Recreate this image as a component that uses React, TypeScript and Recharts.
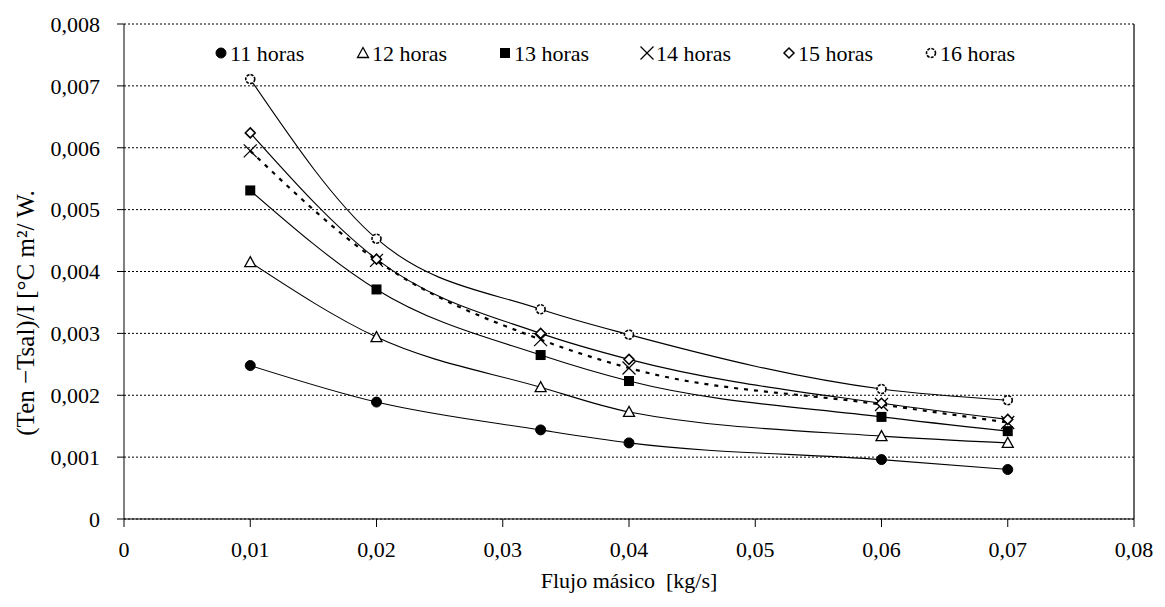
import React from 'react';
import { LineChart, Line, XAxis, YAxis, CartesianGrid, ReferenceLine, Legend } from 'recharts';

const flujo = [0.01, 0.02, 0.033, 0.04, 0.06, 0.07];
const h11 = [0.00248, 0.00189, 0.00144, 0.00123, 0.00096, 0.0008];
const h12 = [0.00415, 0.00294, 0.00213, 0.00173, 0.00134, 0.00123];
const h13 = [0.00531, 0.00371, 0.00265, 0.00223, 0.00165, 0.00142];
const h14 = [0.00595, 0.00418, 0.0029, 0.00244, 0.00185, 0.00156];
const h15 = [0.00624, 0.0042, 0.003, 0.00258, 0.00187, 0.00161];
const h16 = [0.00711, 0.00453, 0.00339, 0.00298, 0.0021, 0.00192];

const seriesKeys = ['h11', 'h12', 'h13', 'h14', 'h15', 'h16'];
const seriesNames = ['11 horas', '12 horas', '13 horas', '14 horas', '15 horas', '16 horas'];
const xTicks = [0, 0.01, 0.02, 0.03, 0.04, 0.05, 0.06, 0.07, 0.08];
const yTicks = [0, 0.001, 0.002, 0.003, 0.004, 0.005, 0.006, 0.007, 0.008];

const data = flujo.map((x, i) => ({
  x,
  h11: h11[i],
  h12: h12[i],
  h13: h13[i],
  h14: h14[i],
  h15: h15[i],
  h16: h16[i],
}));

const FONT = '"Liberation Serif", "Times New Roman", serif';

function Marker({ kind, cx, cy }: { kind: string; cx: number; cy: number }) {
  switch (kind) {
    case 'h11':
      return <circle cx={cx} cy={cy} r={5} fill="#000" stroke="#000" />;
    case 'h12':
      return (
        <polygon
          points={`${cx},${cy - 5.5} ${cx - 5.5},${cy + 4.5} ${cx + 5.5},${cy + 4.5}`}
          fill="#fff"
          stroke="#000"
          strokeWidth={1.3}
        />
      );
    case 'h13':
      return <rect x={cx - 5} y={cy - 5} width={10} height={10} fill="#000" />;
    case 'h14':
      return (
        <g stroke="#000" strokeWidth={1.2}>
          <line x1={cx - 6.5} y1={cy - 6.5} x2={cx + 6.5} y2={cy + 6.5} />
          <line x1={cx - 6.5} y1={cy + 6.5} x2={cx + 6.5} y2={cy - 6.5} />
        </g>
      );
    case 'h15':
      return (
        <polygon
          points={`${cx},${cy - 5} ${cx + 5},${cy} ${cx},${cy + 5} ${cx - 5},${cy}`}
          fill="#fff"
          stroke="#000"
          strokeWidth={1.5}
        />
      );
    default:
      return <circle cx={cx} cy={cy} r={4.5} fill="#fff" stroke="#000" strokeWidth={1.6} strokeDasharray="3 1.2" />;
  }
}

function LegendContent() {
  return (
    <svg width={860} height={30} style={{ display: 'block', overflow: 'visible' }}>
      {seriesKeys.map((k, i) => {
        const x0 = i * 142;
        return (
          <g key={k}>
            <Marker kind={k} cx={x0 + 7} cy={15} />
            <text x={x0 + 16} y={15} dy="0.35em" fontFamily={FONT} fontSize={22} fill="#000">
              {seriesNames[i]}
            </text>
          </g>
        );
      })}
    </svg>
  );
}

const fmtX = (v: number) => (v === 0 ? '0' : v.toFixed(2).replace('.', ','));
const fmtY = (v: number) => (v === 0 ? '0' : v.toFixed(3).replace('.', ','));

export default function App() {
  return (
    <LineChart
      width={1157}
      height={599}
      data={data}
      margin={{ top: 16, right: 31, bottom: 28, left: 0 }}
      style={{ fontFamily: FONT }}
    >
      <CartesianGrid vertical={false} stroke="#000" strokeDasharray="2 2" strokeWidth={1} />
      <XAxis
        type="number"
        dataKey="x"
        domain={[0, 0.08]}
        ticks={xTicks}
        tickFormatter={fmtX}
        height={60}
        tickSize={8}
        tickMargin={14}
        stroke="#000"
        tick={{ fill: '#000', fontSize: 22, fontFamily: FONT }}
        label={{
          content: (p: any) => {
            const vb = p.viewBox || { x: 116, width: 1010, y: 511 };
            return (
              <text
                x={vb.x + vb.width / 2}
                y={580}
                textAnchor="middle"
                fontFamily={FONT}
                fontSize={22}
                fill="#000"
                style={{ whiteSpace: 'pre' }}
              >
                {'Flujo másico  [kg/s]'}
              </text>
            );
          },
        }}
      />
      <YAxis
        type="number"
        domain={[0, 0.008]}
        ticks={yTicks}
        tickFormatter={fmtY}
        width={116}
        tickSize={7}
        tickMargin={17}
        stroke="#000"
        tick={{ fill: '#000', fontSize: 22, fontFamily: FONT }}
        label={{
          content: () => (
            <text
              x={17}
              y={305}
              transform="rotate(-90 17 305)"
              textAnchor="middle"
              dominantBaseline="central"
              fontFamily={FONT}
              fontSize={25}
              fill="#000"
            >
              {'(Ten −Tsal)/I [°C m²/ W.'}
            </text>
          ),
        }}
      />
      <ReferenceLine x={0.08} stroke="#000" strokeWidth={1.2} ifOverflow="visible" />
      <Legend
        layout="vertical"
        align="center"
        verticalAlign="middle"
        content={() => <LegendContent />}
        wrapperStyle={{ position: 'absolute', top: 30, left: 206, width: 860, height: 30 }}
      />
      {seriesKeys.map((k, i) => (
        <Line
          key={k}
          type="monotone"
          dataKey={k}
          name={seriesNames[i]}
          stroke="#000"
          strokeWidth={k === 'h14' ? 2.2 : 1.1}
          strokeDasharray={k === 'h14' ? '4 6' : undefined}
          isAnimationActive={false}
          dot={(p: any) => <Marker key={`${k}-${p.index}`} kind={k} cx={p.cx} cy={p.cy} />}
          activeDot={false}
        />
      ))}
    </LineChart>
  );
}
